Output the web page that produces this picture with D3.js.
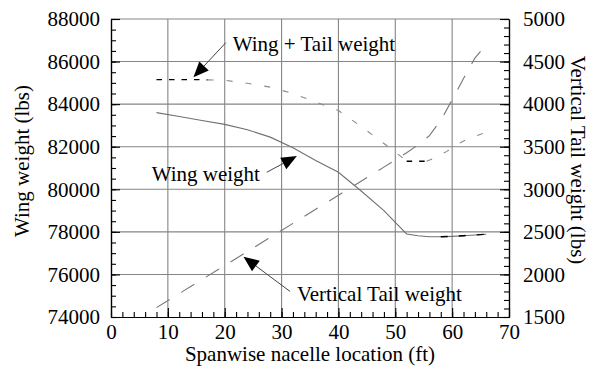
<!DOCTYPE html>
<html>
<head>
<meta charset="utf-8">
<script src="https://cdn.jsdelivr.net/npm/d3@7"></script>
<style>
  html, body { margin: 0; padding: 0; background: #fff; }
  svg { display: block; font-family: "Liberation Serif", "Times New Roman", serif; }
</style>
</head>
<body>
<svg id="chart" width="595" height="368"></svg>
<script>
// Spanwise nacelle location (ft) and resulting weights
const wingX = [8, 12, 16, 20, 24, 28, 32, 36, 40, 44, 48, 50, 52, 54, 56, 58, 60, 62, 64, 66];
const wingWeight = [83600, 83420, 83230, 83050, 82800, 82450, 81950, 81350, 80800, 79920, 79000, 78450, 77900, 77820, 77770, 77770, 77790, 77820, 77850, 77890];

const tailX = [8, 16, 24, 32, 40, 48, 52, 54, 56, 58, 60, 62, 64, 66];
const tailWeight = [1610, 1940, 2270, 2600, 2930, 3260, 3430, 3520, 3630, 3810, 4050, 4300, 4540, 4700];

const totalX = [8, 12, 16, 17, 20, 24, 28, 32, 36, 40, 44, 48, 50, 52, 54, 55.5, 57, 59, 61, 63, 66];
const totalWeight = [85150, 85150, 85150, 85140, 85120, 84980, 84800, 84500, 84100, 83700, 82950, 82150, 81750, 81320, 81320, 81320, 81480, 81770, 82130, 82400, 82680];

// Flat stretches traced in black
const totalFlatRanges = [[8, 17], [52, 55.5]];
const wingFlatRange = [58, 66];

const xTicks = [0, 10, 20, 30, 40, 50, 60, 70];
const leftTicks = [74000, 76000, 78000, 80000, 82000, 84000, 86000, 88000];
const rightTicks = [1500, 2000, 2500, 3000, 3500, 4000, 4500, 5000];

const svg = d3.select("#chart");
const m = { left: 111, right: 509, top: 19, bottom: 317 };
const FS = 21;

const x = d3.scaleLinear().domain([0, 70]).range([m.left, m.right]);
const yL = d3.scaleLinear().domain([74000, 88000]).range([m.bottom, m.top]);
const yR = d3.scaleLinear().domain([1500, 5000]).range([m.bottom, m.top]);

// Grid
const grid = svg.append("g").attr("stroke", "#858585").attr("stroke-width", 1.1);
xTicks.slice(1, -1).forEach(t => {
  grid.append("line").attr("x1", x(t)).attr("x2", x(t)).attr("y1", m.top).attr("y2", m.bottom);
});
leftTicks.slice(1, -1).forEach(t => {
  grid.append("line").attr("x1", m.left).attr("x2", m.right).attr("y1", yL(t)).attr("y2", yL(t));
});
// top border in grey
grid.append("line").attr("x1", m.left).attr("x2", m.right).attr("y1", m.top).attr("y2", m.top);

// Axes with inward ticks
function styleAxis(g) {
  g.attr("font-family", null);
  g.select(".domain").attr("stroke", "#000").attr("stroke-width", 1.2);
  g.selectAll(".tick line").attr("stroke", "#000").attr("stroke-width", 1.1);
  g.selectAll(".tick text").attr("fill", "#000").style("font-size", FS + "px")
    .style("font-family", "'Liberation Serif', serif");
}

// bottom minor ticks
svg.append("g").attr("transform", `translate(0,${m.bottom})`)
  .call(d3.axisBottom(x).tickValues(d3.range(0, 71, 2)).tickSize(-5).tickSizeOuter(0).tickFormat(""))
  .call(styleAxis);
// bottom major ticks + labels
svg.append("g").attr("transform", `translate(0,${m.bottom})`)
  .call(d3.axisBottom(x).tickValues(xTicks).tickSize(-9).tickSizeOuter(0).tickPadding(0).tickFormat(d3.format("d")))
  .call(styleAxis)
  .call(g => g.selectAll(".tick text").attr("y", 22).attr("dy", null));

// left minor + major
svg.append("g").attr("transform", `translate(${m.left},0)`)
  .call(d3.axisLeft(yL).tickValues(d3.range(74000, 88001, 500)).tickSize(-5).tickSizeOuter(0).tickFormat(""))
  .call(styleAxis);
svg.append("g").attr("transform", `translate(${m.left},0)`)
  .call(d3.axisLeft(yL).tickValues(leftTicks).tickSize(-9).tickSizeOuter(0).tickFormat(d3.format("d")))
  .call(styleAxis)
  .call(g => g.selectAll(".tick text").attr("x", -11).attr("dy", "0.32em"));

// right minor + major
svg.append("g").attr("transform", `translate(${m.right},0)`)
  .call(d3.axisRight(yR).tickValues(d3.range(1500, 5001, 100)).tickSize(-5).tickSizeOuter(0).tickFormat(""))
  .call(styleAxis);
svg.append("g").attr("transform", `translate(${m.right},0)`)
  .call(d3.axisRight(yR).tickValues(rightTicks).tickSize(-9).tickSizeOuter(0).tickFormat(d3.format("d")))
  .call(styleAxis)
  .call(g => g.selectAll(".tick text").attr("x", 14).attr("dy", "0.32em"));

// Series
const wingPts = wingX.map((v, i) => [v, wingWeight[i]]);
const tailPts = tailX.map((v, i) => [v, tailWeight[i]]);
const totalPts = totalX.map((v, i) => [v, totalWeight[i]]);

const lineL = d3.line().x(d => x(d[0])).y(d => yL(d[1]));
const lineR = d3.line().x(d => x(d[0])).y(d => yR(d[1]));

const inRange = (r) => d => d[0] >= r[0] && d[0] <= r[1];

// Wing weight: solid grey
svg.append("path").datum(wingPts).attr("d", lineL)
  .attr("fill", "none").attr("stroke", "#707070").attr("stroke-width", 1.1);
svg.append("path").datum(wingPts.filter(inRange(wingFlatRange))).attr("d", lineL)
  .attr("fill", "none").attr("stroke", "#000").attr("stroke-width", 1.4)
  .attr("stroke-dasharray", "7,11");

// Vertical tail weight: long dashes
svg.append("path").datum(tailPts).attr("d", lineR)
  .attr("fill", "none").attr("stroke", "#777").attr("stroke-width", 1.1)
  .attr("stroke-dasharray", "15.5,13.5");

// Wing + tail weight: short dashes, flats in black
const sloped = [
  totalPts.filter(inRange([totalFlatRanges[0][1], totalFlatRanges[1][0]])),
  totalPts.filter(inRange([totalFlatRanges[1][1], 70]))
];
sloped.forEach(seg => {
  svg.append("path").datum(seg).attr("d", lineL)
    .attr("fill", "none").attr("stroke", "#8a8a8a").attr("stroke-width", 1.1)
    .attr("stroke-dasharray", "6,13");
});
totalFlatRanges.forEach(r => {
  svg.append("path").datum(totalPts.filter(inRange(r))).attr("d", lineL)
    .attr("fill", "none").attr("stroke", "#000").attr("stroke-width", 1.4)
    .attr("stroke-dasharray", "5.5,7");
});

// Callouts: leader line and filled arrowhead, positioned in data units
const callouts = [
  { text: "Wing + Tail weight", y: yL, from: [20.2, 86890], tip: [14.5, 85260], at: [21.4, 86510], anchor: "start" },
  { text: "Wing weight", y: yL, from: [27.4, 80800], tip: [32.7, 81560], at: [26.2, 80390], anchor: "end" },
  { text: "Vertical Tail weight", y: yR, from: [31.5, 1800], tip: [23.3, 2208], at: [32.7, 1688], anchor: "start" }
];
callouts.forEach(c => {
  const x0 = x(c.from[0]), y0 = c.y(c.from[1]);
  const x1 = x(c.tip[0]), y1 = c.y(c.tip[1]);
  const dx = x1 - x0, dy = y1 - y0, len = Math.hypot(dx, dy);
  const ux = dx / len, uy = dy / len;
  const L = 15.5, W = 6.5;
  const bx = x1 - ux * L, by = y1 - uy * L;
  svg.append("line").attr("x1", x0).attr("y1", y0).attr("x2", bx).attr("y2", by)
    .attr("stroke", "#444").attr("stroke-width", 1);
  svg.append("path")
    .attr("d", `M${x1},${y1}L${bx - uy * W},${by + ux * W}L${bx + uy * W},${by - ux * W}Z`)
    .attr("fill", "#000");
  svg.append("text").attr("x", x(c.at[0])).attr("y", c.y(c.at[1]))
    .attr("text-anchor", c.anchor).style("font-size", FS + "px").attr("fill", "#000")
    .text(c.text);
});

// Axis titles
svg.append("text").attr("x", (m.left + m.right) / 2).attr("y", 361)
  .attr("text-anchor", "middle").style("font-size", FS + "px")
  .text("Spanwise nacelle location (ft)");
svg.append("text").attr("transform", "translate(28.5,161) rotate(-90)")
  .attr("text-anchor", "middle").style("font-size", FS + "px")
  .text("Wing weight (lbs)");
svg.append("text").attr("transform", "translate(571,160) rotate(90)")
  .attr("text-anchor", "middle").style("font-size", FS + "px")
  .text("Vertical Tail weight (lbs)");
</script>
</body>
</html>
